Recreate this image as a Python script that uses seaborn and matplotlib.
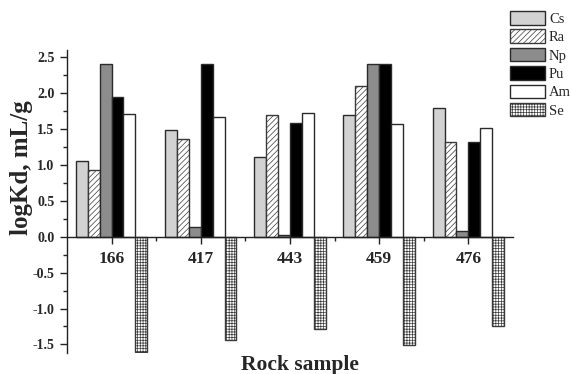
import matplotlib
matplotlib.use("Agg")
import matplotlib.pyplot as plt
from matplotlib.ticker import MultipleLocator, FixedLocator
import seaborn as sns
import pandas as pd

# ---- data ----
samples = ["166", "417", "443", "459", "476"]
elements = ["Cs", "Ra", "Np", "Pu", "Am", "Se"]
cs_vals = [1.05, 1.49, 1.11, 1.70, 1.80]
ra_vals = [0.93, 1.36, 1.70, 2.10, 1.32]
np_vals = [2.40, 0.14, 0.02, 2.40, 0.08]
pu_vals = [1.94, 2.40, 1.59, 2.40, 1.32]
am_vals = [1.71, 1.67, 1.72, 1.57, 1.51]
se_vals = [-1.60, -1.44, -1.29, -1.51, -1.25]

series = {"Cs": cs_vals, "Ra": ra_vals, "Np": np_vals,
          "Pu": pu_vals, "Am": am_vals, "Se": se_vals}
rows = []
for el in elements:
    for s, v in zip(samples, series[el]):
        rows.append({"sample": s, "element": el, "logKd": v})
df = pd.DataFrame(rows)

# ---- styles ----
fills = {"Cs": "#d2d2d2", "Ra": "#ffffff", "Np": "#8c8c8c",
         "Pu": "#000000", "Am": "#ffffff", "Se": "#ffffff"}
hatches = {"Cs": None, "Ra": "//////", "Np": None, "Pu": None, "Am": None, "Se": "++++++"}

sns.set_theme(style="white")
plt.rcParams["font.family"] = ["Liberation Serif", "DejaVu Serif"]
plt.rcParams["hatch.linewidth"] = 0.5

fig = plt.figure(figsize=(5.72, 3.74), dpi=100)
ax = fig.add_axes([0.1171, 0.0561, 0.7797, 0.810])

sns.barplot(data=df, x="sample", y="logKd", hue="element", order=samples,
            hue_order=elements, palette=fills, saturation=1, width=0.8,
            edgecolor="#2a2a2a", linewidth=1.0, legend=False, ax=ax, errorbar=None)

for cont, el in zip(ax.containers, elements):
    for p in cont:
        if hatches[el]:
            p.set_hatch(hatches[el])
            p.set_edgecolor("#3a3a3a")

ax.set_xlim(-0.5, 4.5)
ax.set_ylim(-1.62, 2.6)

# spines
ax.spines["top"].set_visible(False)
ax.spines["right"].set_visible(False)
ax.spines["bottom"].set_position(("data", 0))
for sp in ("left", "bottom"):
    ax.spines[sp].set_color("#222222")
    ax.spines[sp].set_linewidth(1.0)

# ticks
ax.yaxis.set_major_locator(MultipleLocator(0.5))
ax.yaxis.set_minor_locator(MultipleLocator(0.25))
ax.xaxis.set_minor_locator(FixedLocator([0.5, 1.5, 2.5, 3.5]))
ax.tick_params(axis="both", which="major", direction="out", length=5, width=1,
               color="#222222")
ax.tick_params(axis="both", which="minor", direction="out", length=3, width=1,
               color="#222222")
ax.tick_params(axis="y", which="both", left=True)
ax.tick_params(axis="x", which="both", bottom=True)
ax.tick_params(axis="y", labelsize=10, pad=4)
ax.tick_params(axis="x", labelsize=12.5, pad=5)
ax.set_yticks([-1.5, -1.0, -0.5, 0.0, 0.5, 1.0, 1.5, 2.0, 2.5])
ax.set_yticklabels(["-1.5", "-1.0", "-0.5", "0.0", "0.5", "1.0", "1.5", "2.0", "2.5"])
for lab in ax.get_xticklabels() + ax.get_yticklabels():
    lab.set_fontweight("bold")

# labels
ax.set_ylabel("logKd, mL/g", fontsize=18, fontweight="bold", rotation=90,
              rotation_mode="default", ha="center", va="center")
ax.yaxis.set_label_coords(-0.103, 0.611)
ax.set_xlabel("Rock sample", fontsize=15.5, fontweight="bold", va="top")
ax.xaxis.set_label_coords(0.522, -0.008)

# legend
handles = list(ax.containers)
fig.legend(handles, elements, loc="upper left",
           bbox_to_anchor=(510 / 572, 1 - 11 / 374), frameon=False,
           borderpad=0, borderaxespad=0, handlelength=2.4, handleheight=1.05,
           labelspacing=0.25, handletextpad=0.28,
           prop={"family": "Liberation Serif", "size": 10.5})

fig.savefig("out.png", dpi=100, facecolor="white")
